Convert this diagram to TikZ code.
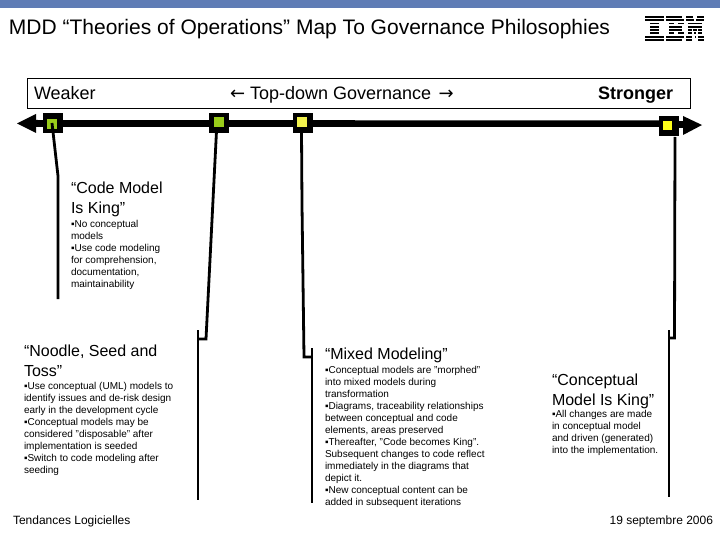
\documentclass[tikz,border=0pt]{standalone}
\usepackage{fontspec}
\setmainfont{Liberation Sans}
\newfontfamily\arrowfont{DejaVu Sans}
\definecolor{band}{HTML}{5F7CB5}
\definecolor{sqgreen}{HTML}{99CC1A}
\definecolor{sqyellow}{HTML}{F2F24D}
\definecolor{sqbright}{HTML}{FFFF1A}
\tikzset{
  x=1pt,y=-1pt,
  lbl/.style={inner sep=0pt,outer sep=0pt,align=left,anchor=north west,text=black},
  headtxt/.style={lbl,font=\fontsize{16}{20.5}\selectfont},
  bodytxt/.style={lbl,font=\fontsize{10}{12}\selectfont},
  tick/.style={draw=black,fill=black,minimum size=19pt,inner sep=0pt,outer sep=0pt},
  core/.style={inner sep=0pt,outer sep=0pt,minimum size=10pt},
  stem/.style={draw=black,line width=2.8pt,line join=miter},
}
\newcommand{\ibmrow}[2]{\foreach \a/\b in {#2}{\fill[black] (\a,#1) rectangle (\b,#1+1.9);}}
\begin{document}
\begin{tikzpicture}
\useasboundingbox (0,0) rectangle (720,540);
\fill[white] (0,0) rectangle (720,540);
\fill[band] (0,0) rectangle (720,8);
\node[lbl,anchor=base west,font=\fontsize{21}{24}\selectfont] (title) at (9,35) {MDD “Theories of Operations” Map To Governance Philosophies};
% IBM logo
\ibmrow{16}{645/664,666/682,686/693,697/704}
\ibmrow{19.3}{645/664,666/683.5,686/694,696/704}
\ibmrow{22.6}{650/659,669/674,678/684,688/702}
\ibmrow{25.9}{650/659,669/682,688/702}
\ibmrow{29.2}{650/659,669/682,688/692,693/697,698/702}
\ibmrow{32.5}{650/659,669/674,678/684,688/692,694/696,698/702}
\ibmrow{35.8}{645/664,666/683.5,686/692,694.5/695.5,698/704}
\ibmrow{39.1}{645/664,666/682,686/692,698/704}
% header box
\node[draw=black,line width=1pt,minimum width=663pt,minimum height=29.5pt,anchor=north west,inner sep=0pt] (hdr) at (26.5,78.5) {};
\node[lbl,anchor=base west,font=\fontsize{18}{20}\selectfont] (weak) at (34,99.5) {Weaker};
\node[lbl,anchor=base west,font=\fontsize{18}{20}\selectfont] (gov) at (230,99.5) {{\arrowfont ←} Top-down Governance\hspace{2.5pt} {\arrowfont →}};
\node[lbl,anchor=base west,font=\fontsize{18}{20}\selectfont\bfseries] (strong) at (598,99.5) {Stronger};
% axis
\fill[black] (36,120) -- (670,120.5) -- (670,127) -- (36,127) -- cycle;
\fill[black] (17,123.5) -- (36,114) -- (36,133) -- cycle;
\fill[black] (702,125) -- (683,116) -- (683,135) -- cycle;
\fill[black] (670,121) rectangle (684,128);
% ticks
\node[tick] (t1) at (52.5,123) {};
\node[tick] (t2) at (218.5,122.5) {};
\node[tick] (t3) at (302.5,122.5) {};
\node[tick,minimum size=19.5pt] (t4) at (668.5,125.5) {};
\node[core,fill=sqgreen] (c1) at (52,124) {};
\node[core,fill=sqgreen] (c2) at (218.5,122) {};
\node[core,fill=sqyellow] (c3) at (302,122) {};
\node[core,fill=sqbright,minimum size=9.5pt] (c4) at (667.5,125.5) {};
% connectors
\coordinate (k1) at (58,176);
\coordinate (e1) at (58,299);
\draw[stem] (52,123) -- (k1) -- (e1);
\coordinate (k2) at (206,339);
\coordinate (j2) at (198,339);
\coordinate (a2) at (198,330);
\coordinate (b2) at (198,500);
\draw[stem] (t2.south) ++(-2,-1) -- (k2) -- (j2);
\draw[stem] (a2) -- (b2);
\coordinate (m3) at (302,205);
\coordinate (k3) at (304,357);
\coordinate (j3) at (312,357);
\coordinate (a3) at (312,348);
\coordinate (b3) at (312,503);
\draw[stem] (t3.south) ++(-1,-1) -- (m3) -- (k3) -- (j3);
\draw[stem] (a3) -- (b3);
\coordinate (k4) at (674.5,338);
\coordinate (j4) at (669,338);
\coordinate (a4) at (669,330);
\coordinate (b4) at (669,497);
\draw[stem] (675,137) -- (k4) -- (j4);
\draw[stem] (a4) -- (b4);
% text blocks
\node[headtxt] (h1) at (71,181.5) {“Code Model\\Is King”};
\node[bodytxt] (p1) at (71,220.5) {▪No conceptual\\models\\▪Use code modeling\\for comprehension,\\documentation,\\maintainability};
\node[headtxt] (h2) at (24,344.5) {“Noodle, Seed and\\Toss”};
\node[bodytxt] (p2) at (24,382.5) {▪Use conceptual (UML) models to\\identify issues and de-risk design\\early in the development cycle\\▪Conceptual models may be\\considered "disposable" after\\implementation is seeded\\▪Switch to code modeling after\\seeding};
\node[headtxt] (h3) at (325,348) {“Mixed Modeling”};
\node[bodytxt] (p3) at (325,366) {▪Conceptual models are "morphed"\\into mixed models during\\transformation\\▪Diagrams, traceability relationships\\between conceptual and code\\elements, areas preserved\\▪Thereafter, "Code becomes King".\\Subsequent changes to code reflect\\immediately in the diagrams that\\depict it.\\▪New conceptual content can be\\added in subsequent iterations};
\node[headtxt] (h4) at (552,373.5) {“Conceptual\\Model Is King”};
\node[bodytxt] (p4) at (552,410.5) {▪All changes are made\\in conceptual model\\and driven (generated)\\into the implementation.};
% footer
\node[lbl,anchor=base west,font=\fontsize{12}{14}\selectfont] (foot1) at (13,524) {Tendances Logicielles};
\node[lbl,anchor=base east,font=\fontsize{12}{14}\selectfont] (foot2) at (713,524) {19 septembre 2006};
\end{tikzpicture}
\end{document}
